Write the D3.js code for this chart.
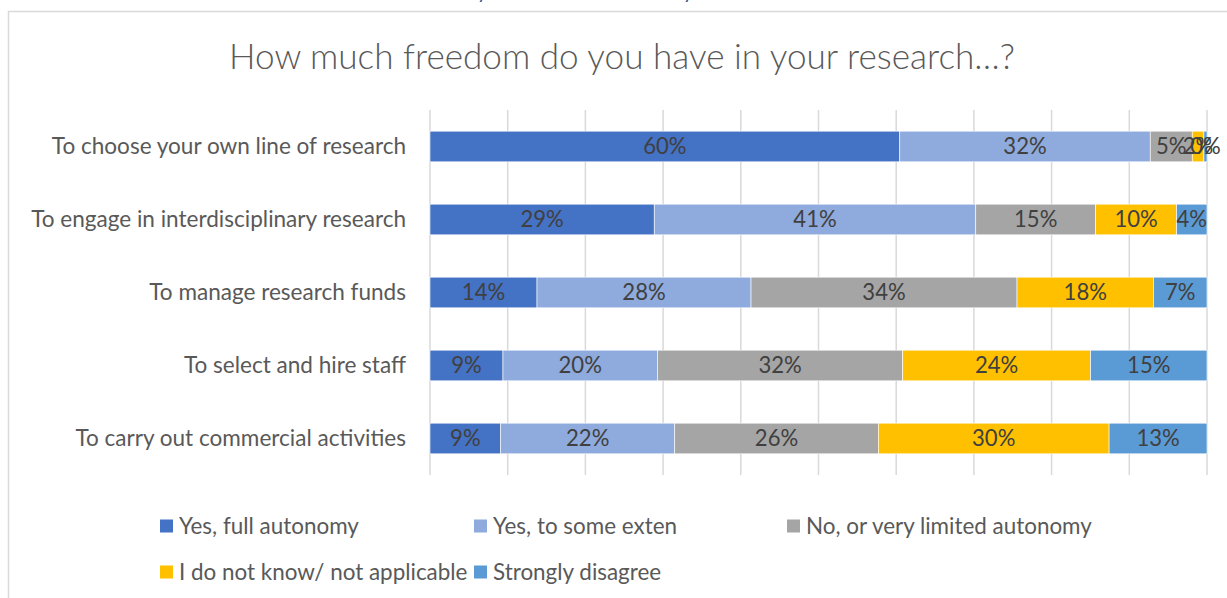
<!DOCTYPE html>
<html>
<head>
<meta charset="utf-8">
<script src="https://cdn.jsdelivr.net/npm/d3@7"></script>
<style>
  html, body { margin: 0; padding: 0; background: #ffffff; overflow: hidden; }
  svg { display: block; }
  text { font-family: Lato, "Open Sans", sans-serif; }
</style>
</head>
<body>
<svg id="chart" width="1227" height="598"></svg>
<script>
// ---- data ----
const title = "How much freedom do you have in your research…?";
const categories = [
  "To choose your own line of research",
  "To engage in interdisciplinary research",
  "To manage research funds",
  "To select and hire staff",
  "To carry out commercial activities"
];
const seriesNames = [
  "Yes, full autonomy",
  "Yes, to some exten",
  "No, or very limited autonomy",
  "I do not know/ not applicable",
  "Strongly disagree"
];
const yesFull      = [60.4, 28.8, 13.8,  9.4,  9.1];
const yesSome      = [32.2, 41.3, 27.6, 19.9, 22.4];
const noLimited    = [ 5.4, 15.4, 34.3, 31.6, 26.2];
const dontKnow     = [ 1.5, 10.4, 17.6, 24.2, 29.7];
const strongly     = [ 0.4,  3.9,  6.9, 15.0, 12.6];
const gridTicks    = [0, 0.1, 0.2, 0.3, 0.4, 0.5, 0.6, 0.7, 0.8, 0.9, 1.0];
const seriesColors = ["#4472C4", "#8FAADC", "#A5A5A5", "#FFC000", "#5B9BD5"];

// ---- build table ----
const seriesValues = [yesFull, yesSome, noLimited, dontKnow, strongly];
const table = categories.map((c, i) => {
  const row = { category: c };
  seriesNames.forEach((s, j) => row[s] = seriesValues[j][i]);
  return row;
});
const stacked = d3.stack().keys(seriesNames).offset(d3.stackOffsetExpand)(table);

const svg = d3.select("#chart");
const textColor = "#595959";
const labelColor = "#404040";

// fit helper: choose font-size so text spans target width
function fitSize(str, target, base, weight) {
  const t = svg.append("text").attr("font-size", base)
    .attr("font-weight", weight || 400).text(str);
  const w = t.node().getComputedTextLength();
  t.remove();
  return base * target / w;
}

// chart frame
svg.append("rect")
  .attr("x", 8.5).attr("y", 11.5)
  .attr("width", 1240).attr("height", 600)
  .attr("fill", "none").attr("stroke", "#d9d9d9").attr("stroke-width", 1.5);

// cut-off text fragment at top
svg.append("text")
  .attr("x", 477).attr("y", -1)
  .attr("font-size", 20).attr("fill", "#2F5597")
  .text("y");
svg.append("text")
  .attr("x", 683).attr("y", -1)
  .attr("font-size", 20).attr("fill", "#2F5597")
  .text("y");

// title
const titleSize = fitSize(title, 786, 30, 300);
svg.append("text")
  .attr("x", 622).attr("y", 69)
  .attr("text-anchor", "middle")
  .attr("font-size", titleSize)
  .attr("font-weight", 300)
  .attr("fill", textColor)
  .text(title);

// scales
const x = d3.scaleLinear().domain([0, 1]).range([430, 1207]);
const y = d3.scaleBand().domain(categories).range([110, 475])
  .paddingInner(0.58).paddingOuter(0.29);

// gridlines
svg.append("g").selectAll("line").data(gridTicks).join("line")
  .attr("x1", d => x(d)).attr("x2", d => x(d))
  .attr("y1", 110).attr("y2", 475)
  .attr("stroke", "#d9d9d9").attr("stroke-width", 1.5);

// category axis labels
const catSize = fitSize(categories[1], 375, 20);
svg.append("g").selectAll("text").data(categories).join("text")
  .attr("x", 406)
  .attr("y", d => y(d) + y.bandwidth() / 2)
  .attr("dy", "0.35em")
  .attr("text-anchor", "end")
  .attr("font-size", catSize)
  .attr("fill", textColor)
  .text(d => d);

// bars
const groups = svg.append("g").selectAll("g").data(stacked).join("g")
  .attr("fill", (d, i) => seriesColors[i]);
groups.selectAll("rect").data(d => d).join("rect")
  .attr("x", d => x(d[0]))
  .attr("y", d => y(d.data.category))
  .attr("width", d => x(d[1]) - x(d[0]))
  .attr("height", y.bandwidth())
  .attr("stroke", "#ffffff").attr("stroke-width", 0.6);

// data labels
const lblSize = catSize * 0.98;
const labels = svg.append("g");
stacked.forEach((s) => {
  labels.selectAll(null).data(s).join("text")
    .attr("x", d => (x(d[0]) + x(d[1])) / 2)
    .attr("y", d => y(d.data.category) + y.bandwidth() / 2)
    .attr("dy", "0.35em")
    .attr("text-anchor", "middle")
    .attr("font-size", lblSize)
    .attr("fill", labelColor)
    .text(d => Math.round(d.data[s.key]) + "%");
});

// legend
const legendPos = [
  { x: 160, y: 526 }, { x: 474, y: 526 }, { x: 787, y: 526 },
  { x: 160, y: 572 }, { x: 474, y: 572 }
];
const legSize = fitSize(seriesNames[0], 180, 20);
const leg = svg.append("g").selectAll("g").data(seriesNames).join("g")
  .attr("transform", (d, i) => `translate(${legendPos[i].x},${legendPos[i].y})`);
leg.append("rect")
  .attr("x", 0).attr("y", -6.5)
  .attr("width", 13).attr("height", 13)
  .attr("fill", (d, i) => seriesColors[i]);
leg.append("text")
  .attr("x", 19).attr("y", 0).attr("dy", "0.35em")
  .attr("font-size", legSize)
  .attr("fill", textColor)
  .text(d => d);
</script>
</body>
</html>
